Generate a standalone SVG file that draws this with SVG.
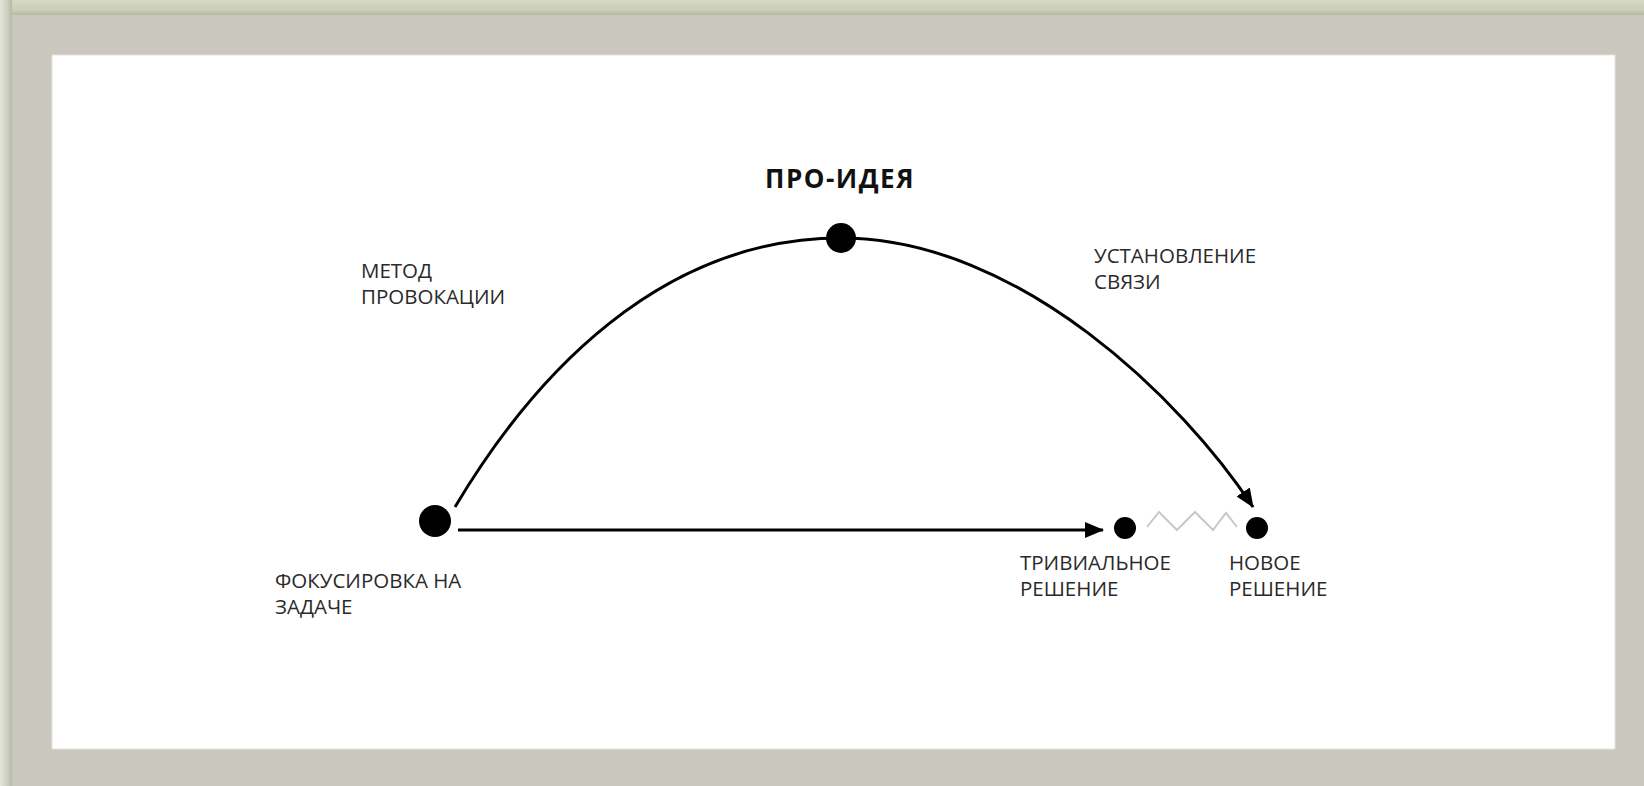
<svg xmlns="http://www.w3.org/2000/svg" width="1644" height="786" viewBox="0 0 1644 786">
<defs>
<linearGradient id="gTop" x1="0" y1="0" x2="0" y2="1"><stop offset="0" stop-color="#d6dbc6"/><stop offset="0.7" stop-color="#c9cdb6"/><stop offset="1" stop-color="#b3b7a3"/></linearGradient>
<linearGradient id="gLeft" x1="0" y1="0" x2="1" y2="0"><stop offset="0" stop-color="#e3e6da"/><stop offset="0.6" stop-color="#cdd0c0"/><stop offset="1" stop-color="#b6b9a8"/></linearGradient>
<marker id="arr" markerWidth="20" markerHeight="16" refX="18" refY="8" orient="auto" markerUnits="userSpaceOnUse"><path d="M0,0 L19,8 L0,16 Z" fill="#000"/></marker>
<style>
.lbl{font-family:"Open Sans","Liberation Sans",sans-serif;font-size:20.5px;fill:#2a2a2a;}
.ttl{font-family:"Open Sans","Liberation Sans",sans-serif;font-size:26px;font-weight:bold;fill:#111;letter-spacing:1.5px;}
.ln{fill:none;stroke:#000;stroke-width:3;}
.dot{fill:#000;}
</style>
</defs>
<rect x="0" y="0" width="1644" height="786" fill="#cac7bf"/>
<rect x="0" y="0" width="1644" height="15" fill="url(#gTop)"/>
<rect x="0" y="0" width="12" height="786" fill="url(#gLeft)"/>
<rect x="52" y="55" width="1563" height="694" fill="#fff" stroke="#e6e3dc" stroke-width="1"/>
<g id="connectors">
<path class="ln" d="M455,507 C533,376 660,238 841,238" />
<path class="ln" d="M841,238 C1020,238 1184,402 1253,507" marker-end="url(#arr)"/>
<path class="ln" d="M458,530 L1103,530" marker-end="url(#arr)"/>
<polyline points="1147,527 1159,512 1177,530 1195,512 1213,530 1226,513 1237,527" fill="none" stroke="#c8c8c8" stroke-width="2"/>
</g>
<g id="node-focus">
<circle class="dot" cx="435" cy="521" r="16"/>
<text class="lbl" x="275" y="588">ФОКУСИРОВКА НА</text>
<text class="lbl" x="275" y="614">ЗАДАЧЕ</text>
</g>
<g id="node-proidea">
<circle class="dot" cx="841" cy="238" r="15"/>
<text class="ttl" x="840" y="188" text-anchor="middle">ПРО-ИДЕЯ</text>
</g>
<g id="node-trivial">
<circle class="dot" cx="1125" cy="528" r="11"/>
<text class="lbl" x="1020" y="570">ТРИВИАЛЬНОЕ</text>
<text class="lbl" x="1020" y="596">РЕШЕНИЕ</text>
</g>
<g id="node-new">
<circle class="dot" cx="1257" cy="528" r="11"/>
<text class="lbl" x="1229" y="570">НОВОЕ</text>
<text class="lbl" x="1229" y="596">РЕШЕНИЕ</text>
</g>
<g id="label-method">
<text class="lbl" x="361" y="278">МЕТОД</text>
<text class="lbl" x="361" y="304">ПРОВОКАЦИИ</text>
</g>
<g id="label-connect">
<text class="lbl" x="1094" y="263">УСТАНОВЛЕНИЕ</text>
<text class="lbl" x="1094" y="289">СВЯЗИ</text>
</g>
</svg>
